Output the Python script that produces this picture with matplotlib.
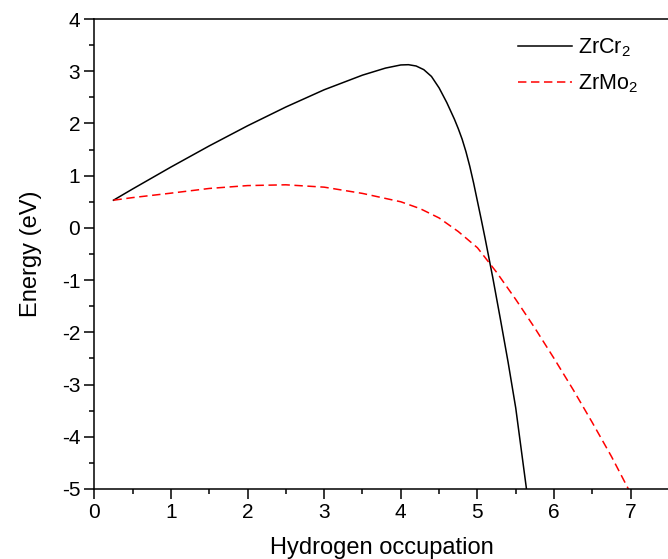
import matplotlib
matplotlib.use("Agg")
import matplotlib.pyplot as plt
from matplotlib.ticker import MultipleLocator

plt.rcParams['font.family'] = ['Liberation Sans', 'DejaVu Sans']
plt.rcParams['mathtext.fontset'] = 'custom'
plt.rcParams['mathtext.rm'] = 'Liberation Sans'
plt.rcParams['mathtext.it'] = 'Liberation Sans:italic'
plt.rcParams['axes.unicode_minus'] = False

# ZrCr2 curve
x_cr = [0.25, 0.5, 1.0, 1.5, 2.0, 2.5, 3.0, 3.5, 3.8, 4.0, 4.1, 4.2, 4.3, 4.4,
        4.5, 4.6, 4.7, 4.75, 4.8, 4.85, 4.9, 4.95, 5.0, 5.05, 5.1, 5.2, 5.3, 5.4, 5.5, 5.64]
y_cr = [0.53, 0.745, 1.165, 1.57, 1.955, 2.315, 2.645, 2.925, 3.06, 3.12, 3.125, 3.10,
        3.03, 2.90, 2.68, 2.40, 2.08, 1.90, 1.70, 1.46, 1.18, 0.86, 0.51, 0.16, -0.2,
        -0.95, -1.75, -2.57, -3.45, -5.0]

# ZrMo2 curve
x_mo = [0.25, 0.5, 1.0, 1.5, 2.0, 2.5, 3.0, 3.5, 4.0, 4.25, 4.5, 4.75, 5.0, 5.25,
        5.5, 5.75, 6.0, 6.25, 6.5, 6.75, 6.97]
y_mo = [0.53, 0.58, 0.665, 0.755, 0.81, 0.825, 0.78, 0.66, 0.50, 0.37, 0.19, -0.07,
        -0.38, -0.85, -1.37, -1.92, -2.5, -3.1, -3.73, -4.38, -5.0]

labels = ['ZrCr$_2$', 'ZrMo$_2$']
xlabel = 'Hydrogen occupation'
ylabel = 'Energy (eV)'

fig = plt.figure(figsize=(6.68, 5.59), dpi=100)
ax = fig.add_axes([94.3 / 668, 70 / 559, 574.7 / 668, 470 / 559])

ax.plot(x_cr, y_cr, color='black', lw=1.1, label=labels[0])
ax.plot(x_mo, y_mo, color='red', lw=1.1, dashes=(5.5, 3), label=labels[1])

ax.set_xlim(0, 7.5)
ax.set_ylim(-5, 4)
ax.xaxis.set_major_locator(MultipleLocator(1))
ax.xaxis.set_minor_locator(MultipleLocator(0.5))
ax.yaxis.set_major_locator(MultipleLocator(1))
ax.yaxis.set_minor_locator(MultipleLocator(0.5))
ax.tick_params(which='major', direction='out', length=7.2, width=1.1,
               labelsize=15, top=False, right=False)
ax.tick_params(which='minor', direction='out', length=3.6, width=1.1,
               top=False, right=False)
ax.tick_params(axis='x', which='major', pad=3)
ax.tick_params(axis='y', which='major', pad=3)
for s in ax.spines.values():
    s.set_linewidth(1.1)

ax.set_xlabel(xlabel, fontsize=17, labelpad=11)
ax.set_ylabel(ylabel, fontsize=17, labelpad=14)

ax.legend(loc='upper left', bbox_to_anchor=(0.737, 0.962), frameon=False,
          fontsize=15.5, handlelength=2.5, handletextpad=0.3, labelspacing=0.6,
          borderpad=0, borderaxespad=0)

fig.savefig('out.png', dpi=100)
